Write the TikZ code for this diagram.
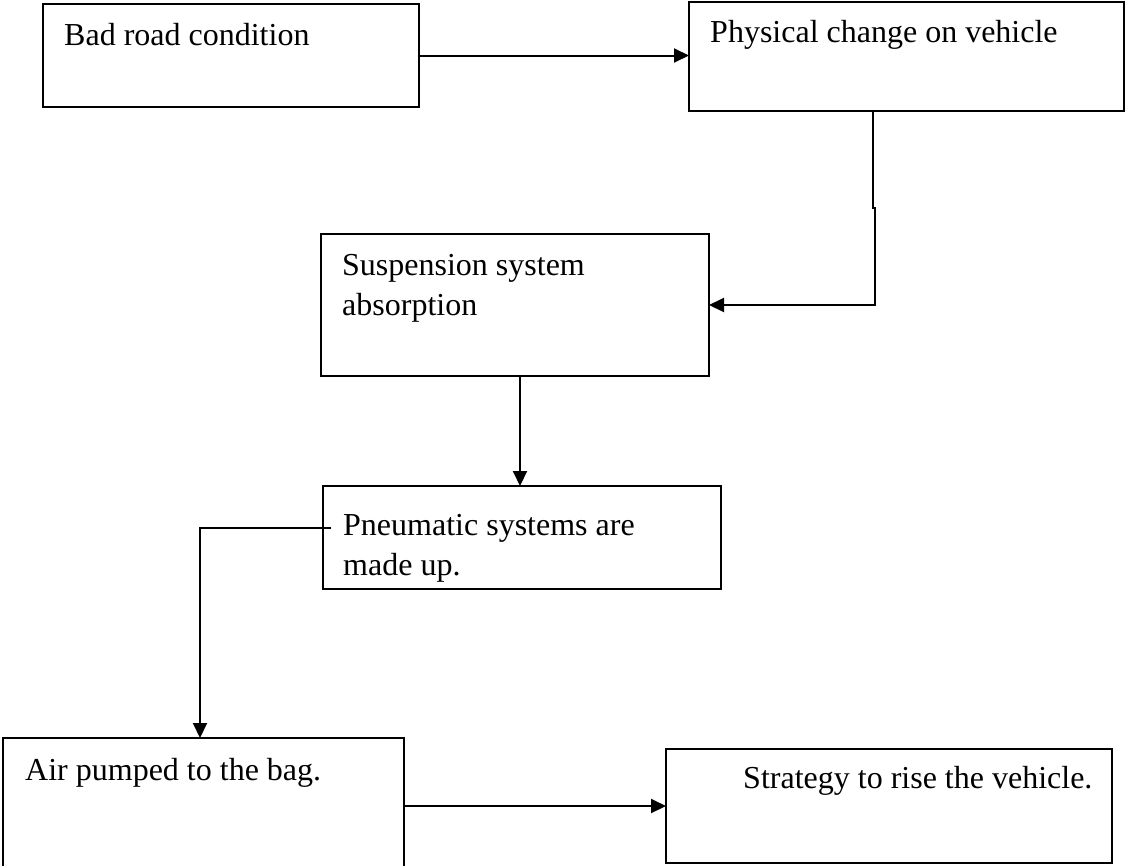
\documentclass[tikz,border=0pt]{standalone}
\usepackage{fontspec}
\setmainfont{Liberation Serif}
\usetikzlibrary{arrows.meta}
\begin{document}
\begin{tikzpicture}[x=1pt,y=-1pt,
  box/.style={draw, line width=2pt, inner sep=0pt, outer sep=0pt, anchor=north west},
  lbl/.style={anchor=base west, inner sep=0pt, font=\fontsize{32}{40}\selectfont},
  conn/.style={line width=2pt},
  arr/.style={conn, -{Triangle[length=15pt,width=14pt]}}]
\useasboundingbox (0,0) rectangle (1126,865);
\clip (0,0) rectangle (1126,865);
% boxes
\node[box, minimum width=376pt, minimum height=103pt] (b1) at (43,4) {};
\node[box, minimum width=435pt, minimum height=109pt] (b2) at (689,2) {};
\node[box, minimum width=388pt, minimum height=142pt] (b3) at (321,234) {};
\node[box, minimum width=398pt, minimum height=103pt] (b4) at (323,486) {};
\node[box, minimum width=401pt, minimum height=140pt] (b5) at (3,738) {};
\node[box, minimum width=446pt, minimum height=114pt] (b6) at (666,749) {};
% texts
\node[lbl] (t1) at (64,45) {Bad road condition};
\node[lbl] (t2) at (710,42) {Physical change on vehicle};
\node[lbl] (t3a) at (342,275) {Suspension system};
\node[lbl] (t3b) at (342,315) {absorption};
\node[lbl] (t4a) at (343,535) {Pneumatic systems are};
\node[lbl] (t4b) at (343,575) {made up.};
\node[lbl] (t5) at (25,780) {Air pumped to the bag.};
\node[lbl] (t6) at (743,788) {Strategy to rise the vehicle.};
% connectors
\draw[arr] (b1.east) -- (b1.east -| b2.west);
\coordinate (k1) at (873,208);
\coordinate (k2) at (875,208);
\draw[arr] (b2.south -| k1) -- (k1) -- (k2) -- (k2 |- b3.east) -- (b3.east);
\coordinate (c3) at (520,0);
\draw[arr] (b3.south -| c3) -- (b4.north -| c3);
\coordinate (p4) at (331,528);
\coordinate (c5) at (200,0);
\draw[arr] (p4) -- (p4 -| c5) -- (c5 |- b5.north);
\draw[arr] (b6.west -| b5.east) -- (b6.west);
\end{tikzpicture}
\end{document}
